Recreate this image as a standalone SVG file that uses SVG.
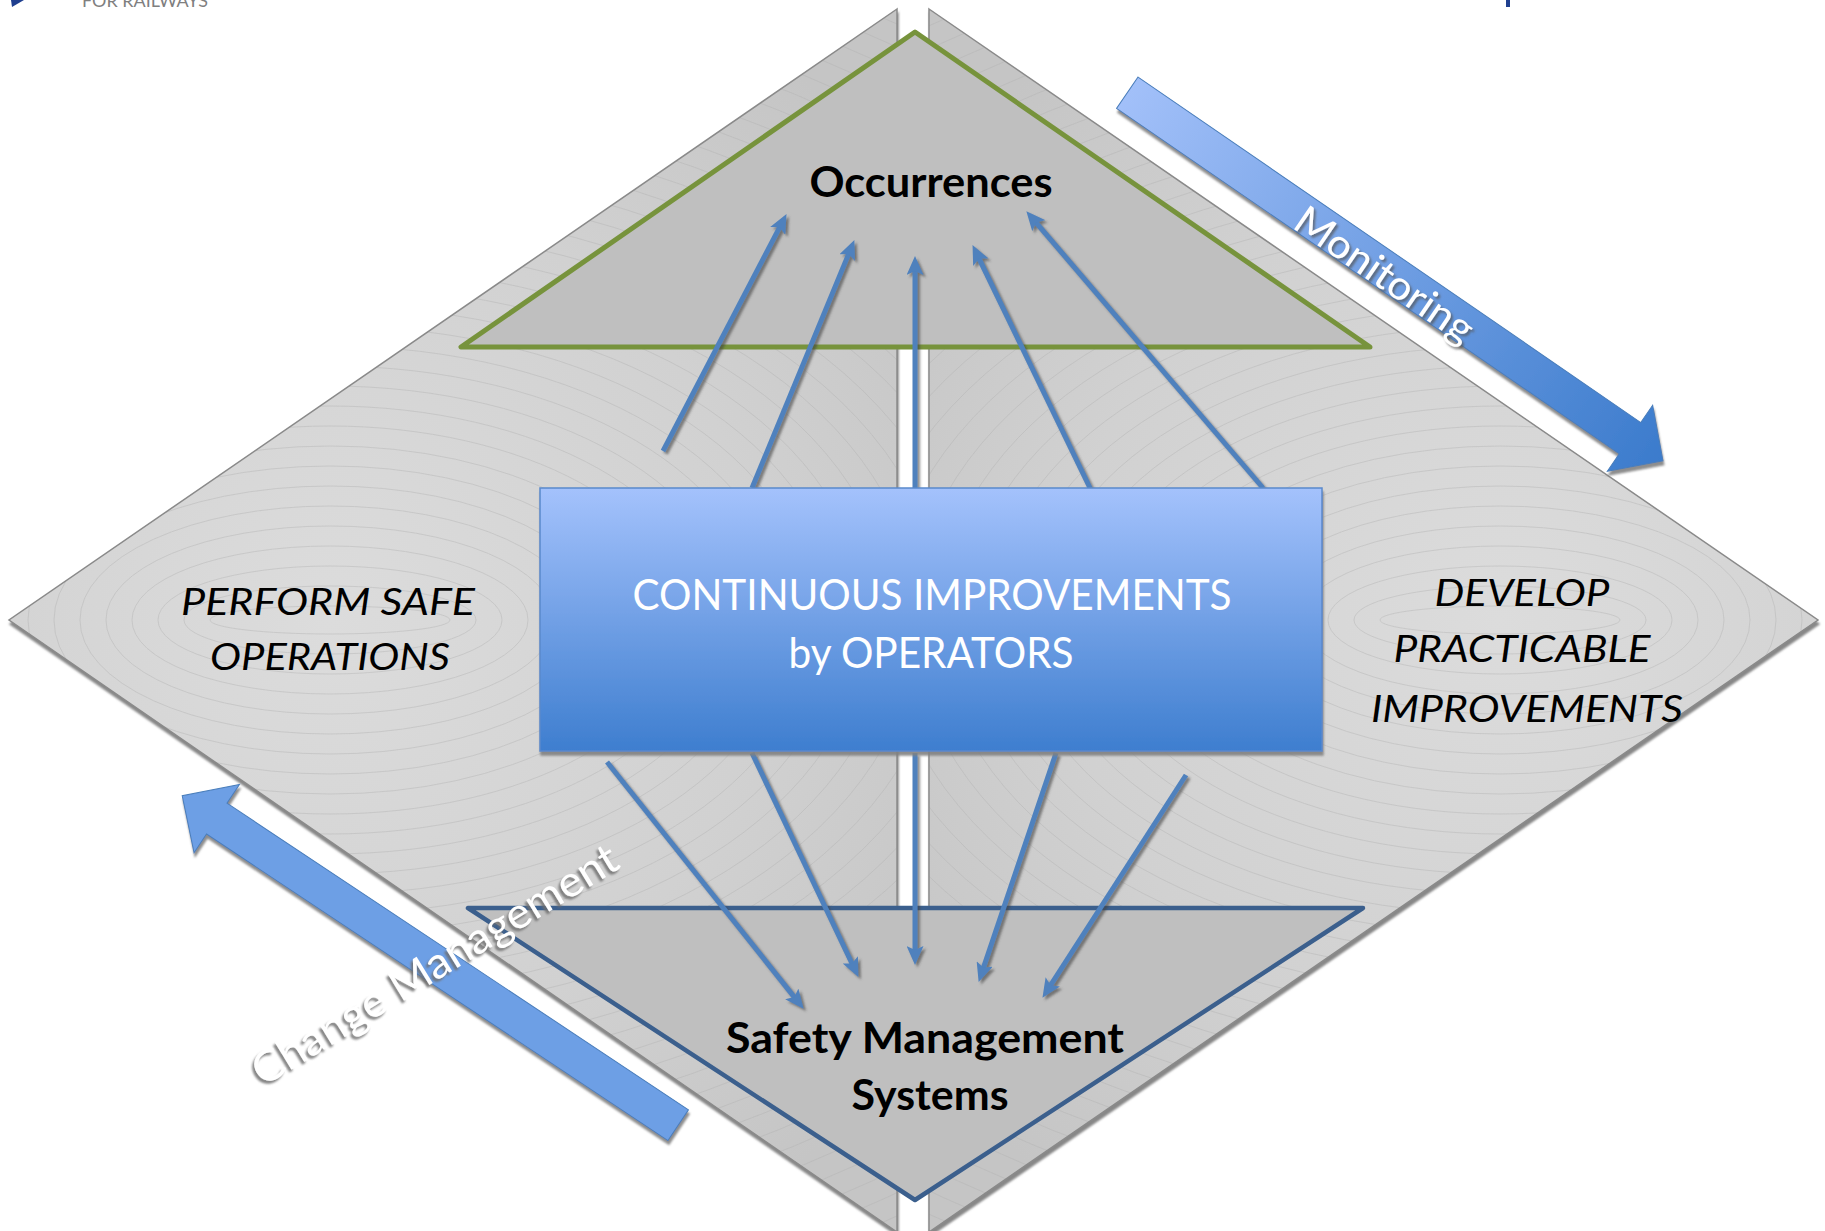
<svg xmlns="http://www.w3.org/2000/svg" xmlns:xlink="http://www.w3.org/1999/xlink" width="1825" height="1231" viewBox="0 0 1825 1231">
<defs>
<style>
.t{font-family:Lato,'Open Sans','Liberation Sans',sans-serif}
.b{font-weight:700;font-size:42px;fill:#000}
.i{font-style:italic;font-size:37px;fill:#000}
.w{fill:#fff}
.conn{fill:none;stroke:#4f81bd;stroke-width:5;marker-end:url(#ah)}
.ring{fill:none;stroke:#b3b3b3;stroke-width:0.8;opacity:0.55}
.half{stroke:none}
.edge{fill:none;stroke:#8a8a8a;stroke-width:1.5}
</style>
<radialGradient id="gl" gradientUnits="userSpaceOnUse" cx="330" cy="620" r="720">
<stop offset="0" stop-color="#dcdcdc"/><stop offset="0.6" stop-color="#d1d1d1"/><stop offset="1" stop-color="#c5c5c5"/>
</radialGradient>
<radialGradient id="gr" gradientUnits="userSpaceOnUse" cx="1500" cy="620" r="720">
<stop offset="0" stop-color="#dcdcdc"/><stop offset="0.6" stop-color="#d1d1d1"/><stop offset="1" stop-color="#c5c5c5"/>
</radialGradient>
<linearGradient id="gbox" x1="0" y1="0" x2="0" y2="1">
<stop offset="0" stop-color="#a4c2fc"/><stop offset="1" stop-color="#3e7ecf"/>
</linearGradient>
<linearGradient id="gm" gradientUnits="userSpaceOnUse" x1="0" y1="0" x2="650" y2="0">
<stop offset="0" stop-color="#a2c0f9"/><stop offset="1" stop-color="#3b7bcc"/>
</linearGradient>
<marker id="ah" viewBox="0 0 19 17" refX="6" refY="8.5" markerWidth="19" markerHeight="17" orient="auto" markerUnits="userSpaceOnUse">
<path d="M0,0 L19,8.5 L0,17 L4,8.5 Z" fill="#4f81bd"/>
</marker>
<filter id="shD" x="-5%" y="-5%" width="110%" height="110%">
<feDropShadow dx="1" dy="4" stdDeviation="1.2" flood-color="#7a7a7a" flood-opacity="0.9"/>
</filter>
<filter id="shC" x="-10%" y="-10%" width="120%" height="120%">
<feDropShadow dx="2.5" dy="2.5" stdDeviation="0.8" flood-color="#404040" flood-opacity="0.6"/>
</filter>
<filter id="shA" x="-10%" y="-10%" width="120%" height="120%">
<feDropShadow dx="1" dy="4" stdDeviation="1" flood-color="#808080" flood-opacity="0.9"/>
</filter>
<filter id="shT" x="-10%" y="-30%" width="120%" height="160%">
<feDropShadow dx="2" dy="2.5" stdDeviation="1" flood-color="#555" flood-opacity="0.7"/>
</filter>
<filter id="shT2" x="-10%" y="-30%" width="120%" height="160%">
<feDropShadow dx="-2" dy="3" stdDeviation="1.2" flood-color="#6e6e6e" flood-opacity="0.85"/>
</filter>
<clipPath id="cl"><polygon points="897,9 9,620 897,1232"/></clipPath>
<clipPath id="cr"><polygon points="929,9 1818,620 929,1232"/></clipPath>
<g id="rings" class="ring">
<ellipse cx="330" cy="620" rx="120" ry="14"/><ellipse cx="330" cy="620" rx="146" ry="34"/>
<ellipse cx="330" cy="620" rx="172" ry="54"/><ellipse cx="330" cy="620" rx="198" ry="74"/>
<ellipse cx="330" cy="620" rx="224" ry="94"/><ellipse cx="330" cy="620" rx="250" ry="114"/>
<ellipse cx="330" cy="620" rx="276" ry="134"/><ellipse cx="330" cy="620" rx="302" ry="154"/>
<ellipse cx="330" cy="620" rx="328" ry="174"/><ellipse cx="330" cy="620" rx="354" ry="194"/>
<ellipse cx="330" cy="620" rx="380" ry="214"/><ellipse cx="330" cy="620" rx="406" ry="234"/>
<ellipse cx="330" cy="620" rx="432" ry="254"/><ellipse cx="330" cy="620" rx="458" ry="274"/>
<ellipse cx="330" cy="620" rx="484" ry="294"/><ellipse cx="330" cy="620" rx="510" ry="314"/>
<ellipse cx="330" cy="620" rx="536" ry="334"/><ellipse cx="330" cy="620" rx="562" ry="354"/>
<ellipse cx="330" cy="620" rx="588" ry="374"/><ellipse cx="330" cy="620" rx="614" ry="394"/>
<ellipse cx="330" cy="620" rx="640" ry="414"/><ellipse cx="330" cy="620" rx="666" ry="434"/>
<ellipse cx="330" cy="620" rx="692" ry="454"/><ellipse cx="330" cy="620" rx="718" ry="474"/>
<ellipse cx="330" cy="620" rx="744" ry="494"/><ellipse cx="330" cy="620" rx="770" ry="514"/>
<ellipse cx="330" cy="620" rx="796" ry="534"/><ellipse cx="330" cy="620" rx="822" ry="554"/>
<ellipse cx="330" cy="620" rx="848" ry="574"/><ellipse cx="330" cy="620" rx="874" ry="594"/>
<ellipse cx="330" cy="620" rx="900" ry="614"/><ellipse cx="330" cy="620" rx="926" ry="634"/>
<ellipse cx="330" cy="620" rx="952" ry="654"/><ellipse cx="330" cy="620" rx="978" ry="674"/>
<ellipse cx="330" cy="620" rx="1004" ry="694"/><ellipse cx="330" cy="620" rx="1030" ry="714"/>
</g>
</defs>

<rect x="0" y="0" width="1825" height="1231" fill="#ffffff"/>

<g id="diamond-left" filter="url(#shD)">
<polygon class="half" points="897,9 9,620 897,1232" fill="url(#gl)"/>
<g clip-path="url(#cl)"><use xlink:href="#rings"/></g>
<polygon class="edge" points="897,9 9,620 897,1232"/>
</g>
<g id="diamond-right" filter="url(#shD)">
<polygon class="half" points="929,9 1818,620 929,1232" fill="url(#gr)"/>
<g clip-path="url(#cr)"><use xlink:href="#rings" transform="translate(1830,0) scale(-1,1)"/></g>
<polygon class="edge" points="929,9 1818,620 929,1232"/>
</g>

<g id="occurrences">
<polygon points="915,32 461,347 1370,347" fill="#bfbfbf" stroke="#77933c" stroke-width="5" stroke-linejoin="round"/>
<text class="t b" x="931" y="197" text-anchor="middle" textLength="243" lengthAdjust="spacingAndGlyphs">Occurrences</text>
</g>

<g id="safety-management-systems">
<polygon points="468,908 1363,908 915,1200" fill="#bfbfbf" stroke="#3b5f8d" stroke-width="4.5" stroke-linejoin="round"/>
<text class="t b" x="925" y="1053" text-anchor="middle" textLength="398" lengthAdjust="spacingAndGlyphs">Safety Management</text>
<text class="t b" x="930" y="1110" text-anchor="middle" textLength="157" lengthAdjust="spacingAndGlyphs">Systems</text>
</g>

<g id="connectors" filter="url(#shC)">
<path class="conn" d="M663,451 L780.5,225.6"/>
<path class="conn" d="M752,488 L849.4,252.1"/>
<path class="conn" d="M915,488 L915,269"/>
<path class="conn" d="M1090,488 L978.2,256.8"/>
<path class="conn" d="M1263,488 L1034.8,221.1"/>
<path class="conn" d="M607,762 L795.5,998.6"/>
<path class="conn" d="M752,753 L852.8,965.2"/>
<path class="conn" d="M915,753 L915,952"/>
<path class="conn" d="M1056,753 L982.8,969.6"/>
<path class="conn" d="M1186,775 L1049.5,986.9"/>
</g>

<g id="continuous-improvements">
<rect x="540" y="488" width="782" height="263" fill="url(#gbox)" stroke="#5a89cc" stroke-width="1.5" filter="url(#shA)"/>
<text class="t w" x="932" y="610" font-size="42" text-anchor="middle" textLength="599" lengthAdjust="spacingAndGlyphs">CONTINUOUS IMPROVEMENTS</text>
<text class="t w" x="931" y="668" font-size="42" text-anchor="middle" textLength="285" lengthAdjust="spacingAndGlyphs">by OPERATORS</text>
</g>

<g id="perform-safe-operations">
<text class="t i" x="328" y="615" text-anchor="middle" textLength="294" lengthAdjust="spacingAndGlyphs">PERFORM SAFE</text>
<text class="t i" x="330" y="670" text-anchor="middle" textLength="240" lengthAdjust="spacingAndGlyphs">OPERATIONS</text>
</g>

<g id="develop-practicable-improvements">
<text class="t i" x="1522" y="606" text-anchor="middle" textLength="175" lengthAdjust="spacingAndGlyphs">DEVELOP</text>
<text class="t i" x="1522" y="662" text-anchor="middle" textLength="257" lengthAdjust="spacingAndGlyphs">PRACTICABLE</text>
<text class="t i" x="1527" y="722" text-anchor="middle" textLength="312" lengthAdjust="spacingAndGlyphs">IMPROVEMENTS</text>
</g>

<g id="monitoring">
<g filter="url(#shA)">
<polygon transform="translate(1127.3,92.7) rotate(34.5)" points="0,-19 610,-19 610,-40 650,0 610,40 610,19 0,19" fill="url(#gm)" stroke="#4a7ebb" stroke-width="1"/>
</g>
<g filter="url(#shT)">
<text class="t w" transform="translate(1127.3,92.7) rotate(34.5)" x="211" y="18" font-size="40" textLength="208" lengthAdjust="spacingAndGlyphs">Monitoring</text>
</g>
</g>

<g id="change-management">
<g filter="url(#shA)">
<polygon transform="translate(678.2,1125.2) rotate(213.6)" points="0,-18.5 554,-18.5 554,-41 595.5,0 554,41 554,18.5 0,18.5" fill="#6d9fe5" stroke="#4a7ebb" stroke-width="1"/>
</g>
<g filter="url(#shT2)">
<text class="t w" transform="translate(263,1087) rotate(-31.5)" x="0" y="0" font-size="43" textLength="421" lengthAdjust="spacingAndGlyphs">Change Management</text>
</g>
</g>

<g id="header-fragments">
<polygon points="11,0 24,0 12,7" fill="#1f3f8f"/>
<text class="t" x="82" y="7" font-size="17" fill="#7f7f7f" textLength="126" lengthAdjust="spacingAndGlyphs">FOR RAILWAYS</text>
<rect x="1506" y="0" width="4" height="7" fill="#1f3f8f"/>
</g>
</svg>
